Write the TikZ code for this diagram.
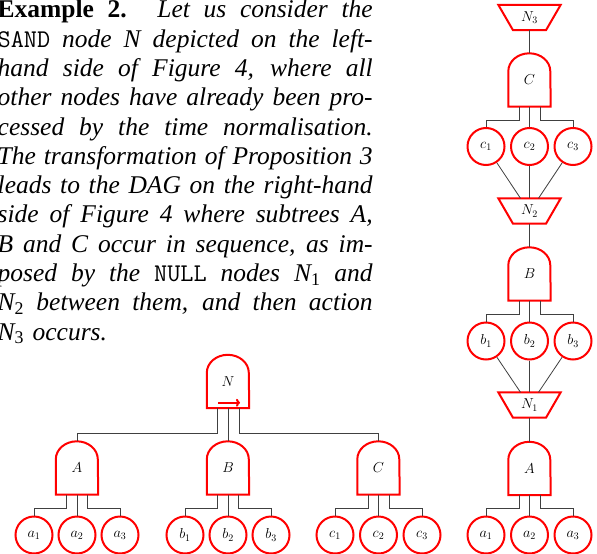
\documentclass[tikz,border=0pt]{standalone}
\usepackage{fontspec}
\setmainfont{Liberation Serif}
\usetikzlibrary{arrows.meta}
\tikzset{
  redl/.style={draw=red, line width=2pt},
  gatebox/.style={minimum width=42pt, minimum height=53pt, inner sep=0pt, font=\fontsize{14.4}{17}\selectfont},
  leaf/.style={circle, draw=red, line width=2pt, minimum size=37pt, inner sep=0pt, font=\fontsize{14.4}{17}\selectfont},
  nullbox/.style={minimum width=62pt, minimum height=25pt, inner sep=0pt, font=\fontsize{14.4}{17}\selectfont},
  conn/.style={draw=black!75, line width=0.8pt},
  para/.style={anchor=north west, inner sep=0pt, text width=375pt, align=left, font=\fontsize{25.5}{29.3}\selectfont\itshape},
}
\newcommand{\gateoutline}[1]{\draw[redl] (#1.south west) -- ([yshift=-18pt]#1.north west) arc[start angle=180, end angle=0, x radius=21pt, y radius=18pt] -- (#1.south east) -- cycle;}
\newcommand{\nulloutline}[1]{\draw[redl, line join=miter] (#1.north west) -- (#1.north east) -- ([xshift=16.5pt]#1.south) -- ([xshift=-16.5pt]#1.south) -- cycle;}
\newcommand{\kidlinks}[4]{%
  \draw[conn] ([xshift=-10.5pt]#1.south) |- ([yshift=7pt]#2.north) -- (#2.north);
  \draw[conn] (#1.south) -- (#3.north);
  \draw[conn] ([xshift=10.5pt]#1.south) |- ([yshift=7pt]#4.north) -- (#4.north);}
\newcommand{\tn}[1]{N\textsubscript{\upshape #1}}
\newcommand{\fl}[1]{\makebox[375pt][s]{\spaceskip=0pt\xspaceskip=0pt #1}\\}
\begin{document}
\begin{tikzpicture}[x=1pt,y=1pt]
\useasboundingbox (0,0) rectangle (597,-554);

% paragraph
\node[para] (txt) at (-2.5,0) {%
\fl{{\upshape\bfseries Example 2.} Let us consider the}
\fl{{\upshape\ttfamily SAND} node N depicted on the left-}
\fl{hand side of Figure 4, where all}
\fl{other nodes have already been pro-}
\fl{cessed by the time normalisation.}
\fl{The transformation of Proposition 3}
\fl{leads to the DAG on the right-hand}
\fl{side of Figure 4 where subtrees A,}
\fl{B and C occur in sequence, as im-}
\fl{posed by the {\upshape\ttfamily NULL} nodes \tn{1} and}
\fl{\tn{2} between them, and then action}
\tn{3} occurs.};

% ---------- left tree ----------
\node[gatebox] (N) at (228,-381.5) {$N$};
\node[gatebox] (A) at (77,-468) {$A$};
\node[gatebox] (B) at (228,-468) {$B$};
\node[gatebox] (C) at (378.5,-468) {$C$};
\foreach \g in {N,A,B,C} {\gateoutline{\g}}
\draw[redl, -{To[length=4pt,width=8pt]}] ([xshift=-10pt,yshift=5.5pt]N.south) -- ([xshift=12pt,yshift=5.5pt]N.south);

\node[leaf] (a1) at (34,-535) {$a_1$};
\node[leaf] (a2) at (77,-535) {$a_2$};
\node[leaf] (a3) at (120,-535) {$a_3$};
\node[leaf] (b1) at (185,-535) {$b_1$};
\node[leaf] (b2) at (228,-535) {$b_2$};
\node[leaf] (b3) at (271,-535) {$b_3$};
\node[leaf] (c1) at (335,-535) {$c_1$};
\node[leaf] (c2) at (378.5,-535) {$c_2$};
\node[leaf] (c3) at (422,-535) {$c_3$};

\draw[conn] ([xshift=-11pt]N.south) |- ([yshift=8pt]A.north) -- (A.north);
\draw[conn] (N.south) -- (B.north);
\draw[conn] ([xshift=11pt]N.south) |- ([yshift=8pt]C.north) -- (C.north);
\kidlinks{A}{a1}{a2}{a3}
\kidlinks{B}{b1}{b2}{b3}
\kidlinks{C}{c1}{c2}{c3}

% ---------- right column ----------
\node[nullbox] (rN3) at (529.5,-17.5) {$N_3$};
\node[gatebox] (rC) at (529.5,-80) {$C$};
\node[leaf] (rc1) at (486,-146.5) {$c_1$};
\node[leaf] (rc2) at (529.5,-146.5) {$c_2$};
\node[leaf] (rc3) at (573,-146.5) {$c_3$};
\node[nullbox] (rN2) at (529.5,-211) {$N_2$};
\node[gatebox] (rB) at (529.5,-274) {$B$};
\node[leaf] (rb1) at (486,-341) {$b_1$};
\node[leaf] (rb2) at (529.5,-341) {$b_2$};
\node[leaf] (rb3) at (573,-341) {$b_3$};
\node[nullbox] (rN1) at (529.5,-405) {$N_1$};
\node[gatebox] (rA) at (529.5,-468.5) {$A$};
\node[leaf] (ra1) at (486,-535) {$a_1$};
\node[leaf] (ra2) at (529.5,-535) {$a_2$};
\node[leaf] (ra3) at (573,-535) {$a_3$};
\foreach \g in {rC,rB,rA} {\gateoutline{\g}}
\foreach \g in {rN3,rN2,rN1} {\nulloutline{\g}}

\draw[conn] (rN3.south) -- (rC.north);
\kidlinks{rC}{rc1}{rc2}{rc3}
\draw[conn] (rc1) -- ([xshift=-9pt]rN2.north);
\draw[conn] (rc2) -- (rN2.north);
\draw[conn] (rc3) -- ([xshift=9pt]rN2.north);
\draw[conn] (rN2.south) -- (rB.north);
\kidlinks{rB}{rb1}{rb2}{rb3}
\draw[conn] (rb1) -- ([xshift=-9pt]rN1.north);
\draw[conn] (rb2) -- (rN1.north);
\draw[conn] (rb3) -- ([xshift=9pt]rN1.north);
\draw[conn] (rN1.south) -- (rA.north);
\kidlinks{rA}{ra1}{ra2}{ra3}
\end{tikzpicture}
\end{document}
